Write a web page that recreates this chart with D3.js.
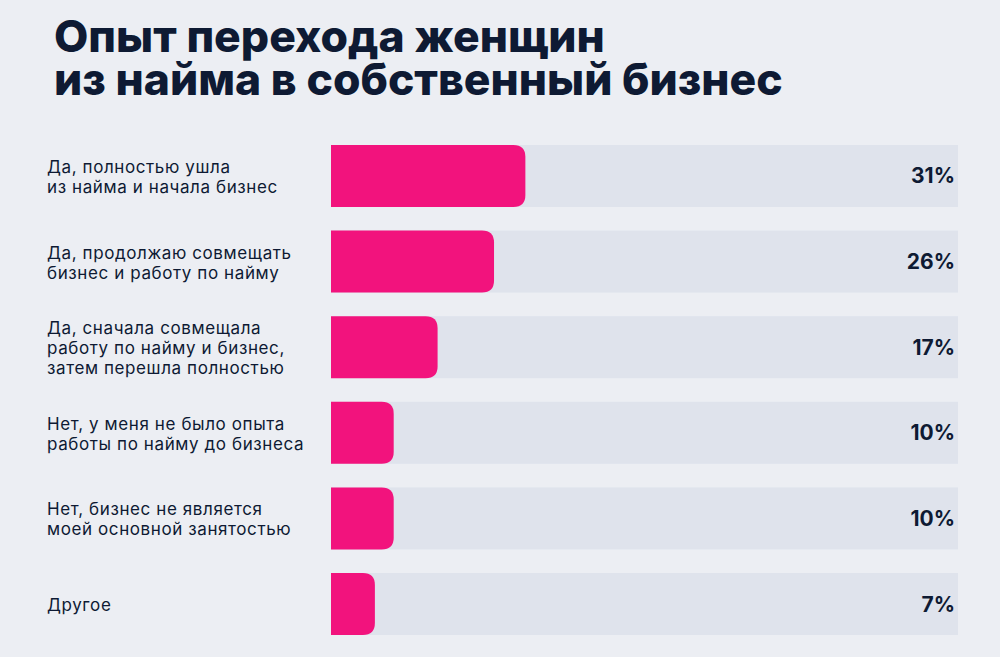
<!DOCTYPE html>
<html>
<head>
<meta charset="utf-8">
<script src="https://cdn.jsdelivr.net/npm/d3@7"></script>
<style>
  html, body { margin: 0; padding: 0; background: #eceef3; }
  svg { display: block; font-family: Inter, "Noto Sans", sans-serif; }
</style>
</head>
<body>
<svg id="chart" width="1000" height="657"></svg>
<script>
// title, split in two lines
const titleLines = ["Опыт перехода женщин", "из найма в собственный бизнес"];

// answer options (lines of each label) and share of answers, %
const categories = [
    ["Да, полностью ушла", "из найма и начала бизнес"],
    ["Да, продолжаю совмещать", "бизнес и работу по найму"],
    ["Да, сначала совмещала", "работу по найму и бизнес,", "затем перешла полностью"],
    ["Нет, у меня не было опыта", "работы по найму до бизнеса"],
    ["Нет, бизнес не является", "моей основной занятостью"],
    ["Другое"]
];
const values = [31, 26, 17, 10, 10, 7];

const width = 1000, height = 657;
const dark = "#0e1a33";
const pink = "#f2137d";
const track = "#dfe3ec";

const svg = d3.select("#chart");

svg.append("rect")
    .attr("width", width)
    .attr("height", height)
    .attr("fill", "#eceef3");

// Title (one text, two lines)
const title = svg.append("text")
    .attr("fill", dark)
    .attr("font-size", 40)
    .attr("font-weight", 800);

title.selectAll("tspan")
    .data(titleLines)
    .join("tspan")
    .attr("x", 54)
    .attr("y", (d, i) => 51.5 + i * 43.5)
    .text(d => d);

// fit second line to its width in the picture
const tw = title.select("tspan:nth-child(2)").node().getComputedTextLength();
title.attr("font-size", 40 * 729 / tw);

// Scales
const keys = categories.map(d => d.join(" "));
const y = d3.scaleBand()
    .domain(keys)
    .range([145, 635])
    .paddingInner(0.276)
    .paddingOuter(0);

const x = d3.scaleLinear()
    .domain([0, 100])
    .range([331, 958]);

const rows = svg.append("g")
    .selectAll("g")
    .data(values.map((v, i) => ({ key: keys[i], lines: categories[i], value: v })))
    .join("g")
    .attr("transform", d => `translate(0,${y(d.key)})`);

const bh = y.bandwidth();

// background track
rows.append("rect")
    .attr("x", x(0))
    .attr("width", x(100) - x(0))
    .attr("height", bh)
    .attr("fill", track);

// pink bar, rounded on the right only
const r = 12;
rows.append("path")
    .attr("fill", pink)
    .attr("d", d => {
        const x0 = x(0), x1 = x(d.value);
        return `M${x0},0 H${x1 - r} Q${x1},0 ${x1},${r} V${bh - r} Q${x1},${bh} ${x1 - r},${bh} H${x0} Z`;
    });

// category labels
rows.append("text")
    .attr("fill", dark)
    .attr("font-size", 17)
    .attr("letter-spacing", 0.6)
    .each(function(d) {
        const n = d.lines.length;
        d3.select(this).selectAll("tspan")
            .data(d.lines)
            .join("tspan")
            .attr("x", 47)
            .attr("y", (l, i) => bh / 2 + 7 + (i - (n - 1) / 2) * 20)
            .text(l => l);
    });

// value labels
rows.append("text")
    .attr("x", 955)
    .attr("y", bh / 2 + 7.5)
    .attr("text-anchor", "end")
    .attr("fill", dark)
    .attr("font-size", 21)
    .attr("font-weight", 700)
    .text(d => d.value + "%");
</script>
</body>
</html>
